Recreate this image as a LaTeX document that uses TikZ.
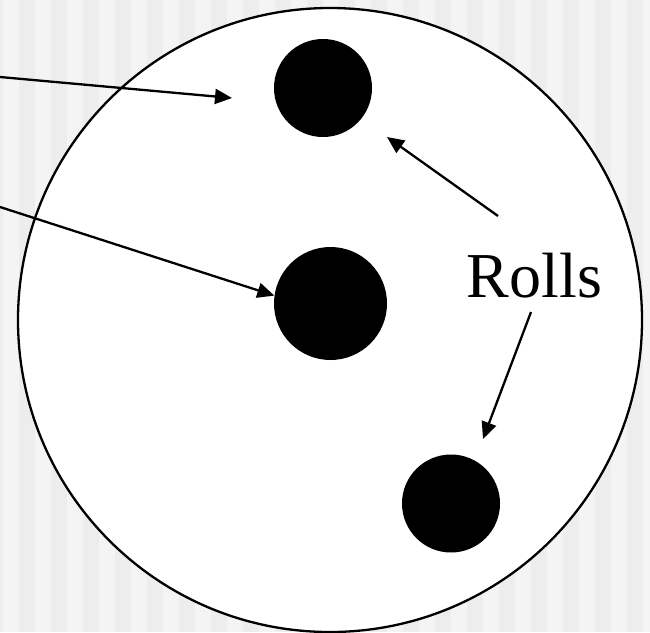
\documentclass[tikz,border=0pt]{standalone}
\usepackage{fontspec}
\setmainfont{Liberation Serif}
\usetikzlibrary{arrows.meta}
\definecolor{stripeLight}{HTML}{F4F4F4}
\definecolor{stripeDark}{HTML}{EDEDED}
\begin{document}
\begin{tikzpicture}[x=1pt, y=-1pt]
% Pixel-sized units, origin top left
\def\stripew{16}
\providecommand{\rollLineWidth}{2.3pt}
\tikzset{
  rolldot/.style={circle, fill=black, inner sep=0pt},
  pointer/.style={line width=\rollLineWidth, -{Triangle[length=17pt, width=15pt]}}
}
\clip (0,0) rectangle (650,632);
% Background stripes
\fill[stripeLight] (0,0) rectangle (650,632);
\foreach \k in {0,...,20}
  \fill[stripeDark] ({-13+2*\stripew*\k},0) rectangle ++(\stripew,632);
% Outer circle
\draw[line width=\rollLineWidth, fill=white] (330,320) circle[radius=312];
% Dots
\node[rolldot, minimum size=98pt] (dotTop) at (323,88) {};
\node[rolldot, minimum size=113pt] (dotMid) at (330.5,303.5) {};
\node[rolldot, minimum size=98pt] (dotLow) at (451,503.5) {};
% Label
\node[anchor=base, font=\fontsize{64}{64}\selectfont] (rolls) at (534.5,297) {Rolls};
% Arrow ends
\coordinate (inTop) at (0,77);
\coordinate (inMid) at (0,207);
\coordinate (tipTop) at (232,98);
\coordinate (rollsUp) at (498,216);
\coordinate (tipUp) at (387,137);
\coordinate (rollsDown) at (531,312);
\coordinate (tipDown) at (483,439);
% Arrows
\draw[pointer] (inTop) -- (tipTop);
\draw[pointer] (inMid) -- (dotMid.172);
\draw[pointer] (rollsUp) -- (tipUp);
\draw[pointer] (rollsDown) -- (tipDown);
\end{tikzpicture}
\end{document}
